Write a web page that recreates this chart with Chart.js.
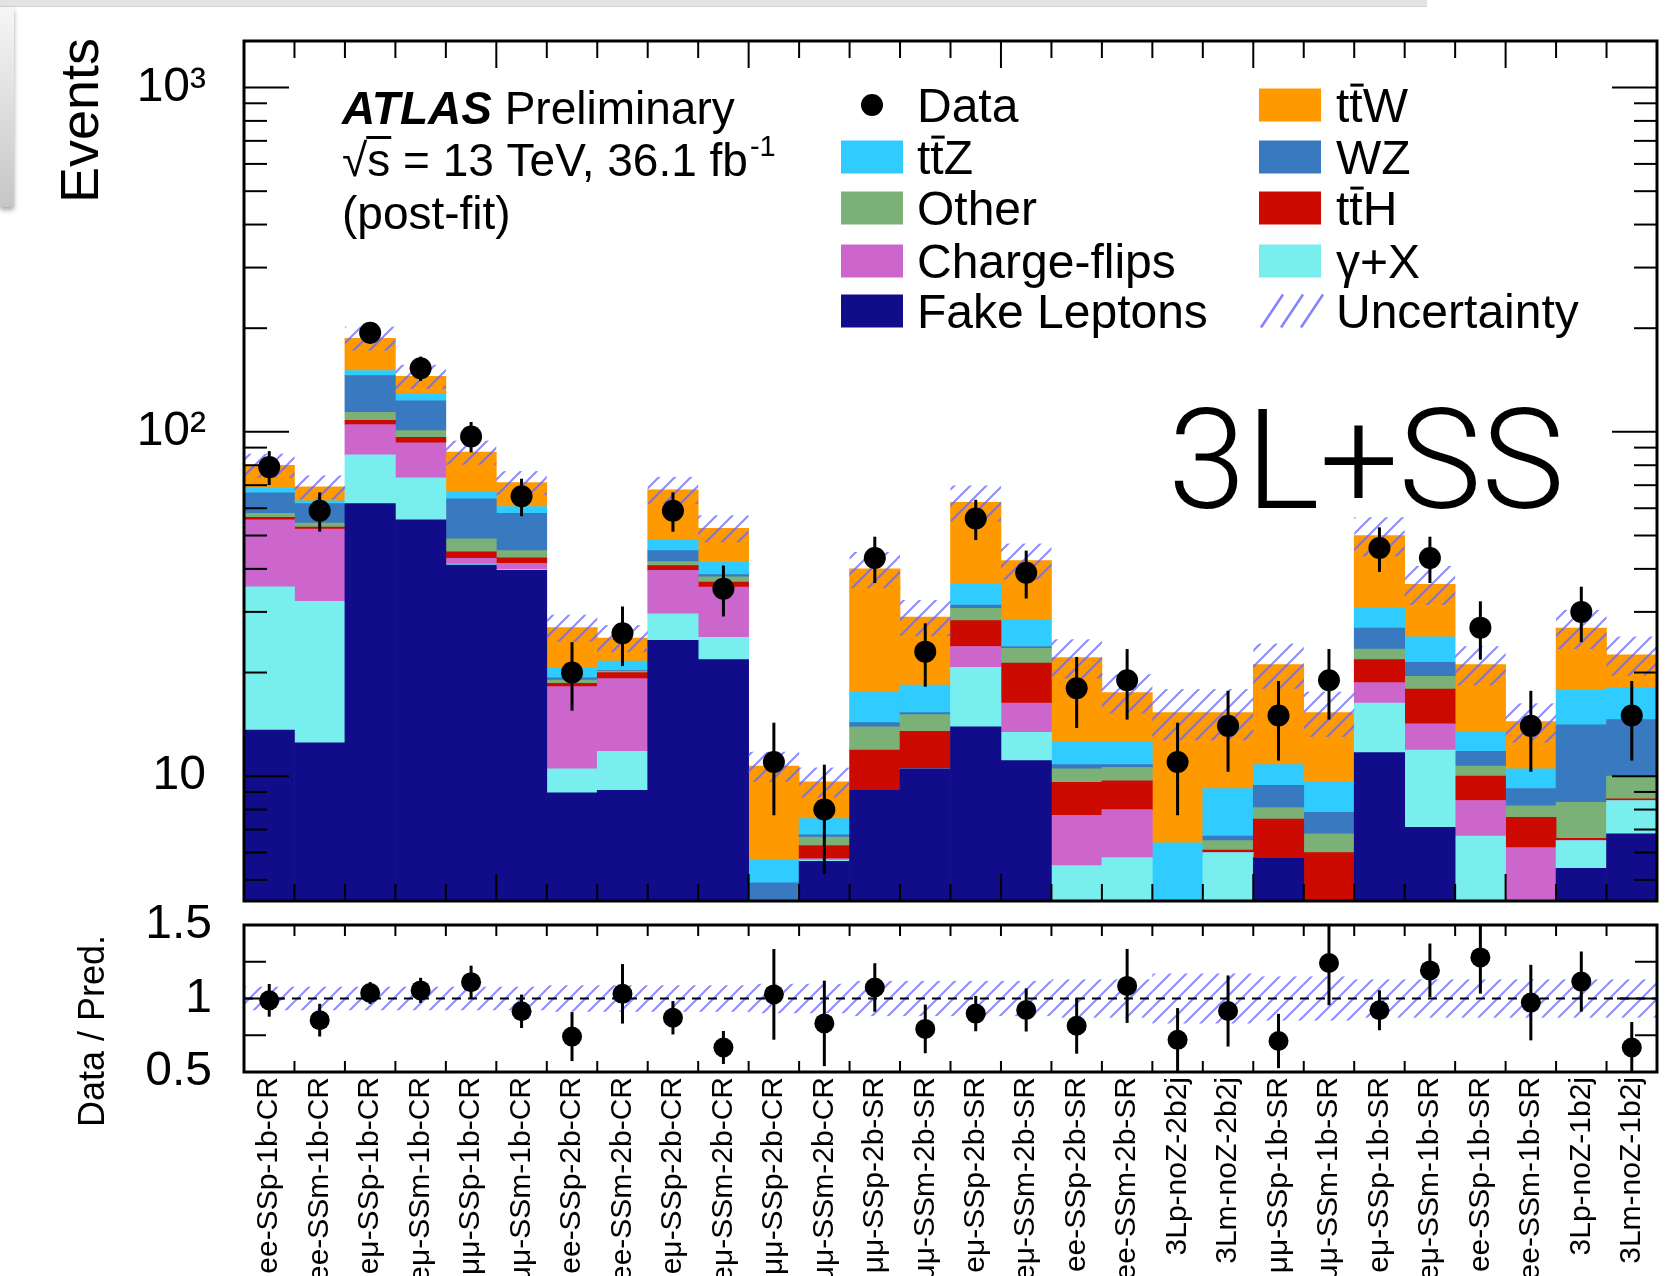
<!DOCTYPE html>
<html>
<head>
<meta charset="utf-8">
<title>3L+SS post-fit yields</title>
<script src="https://cdn.jsdelivr.net/npm/chart.js@4.4.1/dist/chart.umd.min.js"></script>
<style>
  html, body { margin: 0; padding: 0; background: #fff; }
  body { width: 1676px; height: 1276px; position: relative; overflow: hidden; }
  canvas { position: absolute; left: 0; }
  #mainChart { top: 0; }
  #ratioChart { top: 896px; }
  .chrome-top { position: absolute; left: 0; top: 0; width: 1427px; height: 6px; background: #e3e3e3; border-bottom: 1px solid #d2d2d2; }
  .chrome-left { position: absolute; left: 0; top: 7px; width: 14px; height: 200px; background: linear-gradient(#f6f6f6, #c6c6c6); box-shadow: 0 3px 5px rgba(0,0,0,0.35); }
</style>
</head>
<body>
<canvas id="mainChart" width="1676" height="912"></canvas>
<canvas id="ratioChart" width="1676" height="380"></canvas>
<div class="chrome-top"></div>
<div class="chrome-left"></div>
<script>
const FONT = "'Liberation Sans', Arial, Helvetica, sans-serif";

// Regions (x axis bins)
const regions = [
  'ee-SSp-1b-CR', 'ee-SSm-1b-CR', 'eμ-SSp-1b-CR', 'eμ-SSm-1b-CR', 'μμ-SSp-1b-CR', 'μμ-SSm-1b-CR',
  'ee-SSp-2b-CR', 'ee-SSm-2b-CR', 'eμ-SSp-2b-CR', 'eμ-SSm-2b-CR', 'μμ-SSp-2b-CR', 'μμ-SSm-2b-CR',
  'μμ-SSp-2b-SR', 'μμ-SSm-2b-SR', 'eμ-SSp-2b-SR', 'eμ-SSm-2b-SR', 'ee-SSp-2b-SR', 'ee-SSm-2b-SR',
  '3Lp-noZ-2b2j', '3Lm-noZ-2b2j',
  'μμ-SSp-1b-SR', 'μμ-SSm-1b-SR', 'eμ-SSp-1b-SR', 'eμ-SSm-1b-SR', 'ee-SSp-1b-SR', 'ee-SSm-1b-SR',
  '3Lp-noZ-1b2j', '3Lm-noZ-1b2j'
];

// Background yields, bottom of the stack first
const fakeLeptons = [13.6, 12.5, 61.9, 55.5, 41.0, 39.6, 8.95, 9.1, 24.8, 21.8, 1.5, 5.66, 9.1, 10.5, 13.9, 11.1, 2.0, 2.0, 1.5, 1.5, 5.8, 2.5, 11.7, 7.1, 2.0, 1.5, 5.4, 6.8];
const gammaX      = [21.9, 19.7, 23.8, 18.0, 0.3, 0.2, 1.55, 2.7, 4.8, 3.5, 0.6, 0.05, 0, 0, 6.8, 2.3, 3.5, 3.8, 0.5, 4.5, 0, 0.8, 4.6, 4.8, 4.7, 1.5, 1.1, 1.7];
const chargeFlips = [20.0, 20.0, 19.3, 19.5, 1.6, 1.7, 7.7, 7.4, 10.0, 10.1, 0.1, 0.05, 0, 0, 3.1, 2.9, 2.2, 2.2, 0.2, 0, 0, 0.9, 2.4, 2.3, 1.8, 3.2, 0, 0];
const ttH         = [1.0, 0.7, 3.0, 3.4, 1.9, 1.6, 0.4, 0.8, 1.3, 1.2, 0.9, 0.53, 2.8, 3.0, 4.5, 5.0, 1.9, 1.7, 0.8, 0.1, 1.7, 1.8, 3.1, 3.7, 1.5, 1.4, 0.1, 0.1];
const other       = [1.5, 1.4, 6.0, 4.4, 4.1, 2.1, 0.4, 0.2, 1.1, 1.3, 0.8, 0.36, 2.0, 1.6, 2.4, 2.2, 0.9, 0.9, 0.6, 0.4, 0.6, 0.8, 1.6, 1.6, 0.7, 0.6, 1.8, 1.4];
const wz          = [8.5, 7.6, 31.6, 22.2, 15.0, 12.8, 0.3, 0.1, 3.2, 0.6, 1.0, 0.1, 0.4, 0.2, 0.7, 0.3, 0.3, 0.2, 0.5, 0.2, 1.3, 1.05, 3.5, 1.9, 1.1, 1.0, 5.7, 4.6];
const ttZ         = [2.0, 1.2, 5.1, 6.0, 3.1, 2.7, 1.3, 1.3, 3.4, 3.3, 0.8, 0.78, 3.3, 3.1, 4.7, 4.6, 1.8, 1.8, 2.3, 2.5, 1.4, 1.75, 3.9, 4.0, 1.6, 1.3, 3.7, 3.5];
const ttW         = [11.5, 6.1, 36.3, 16.0, 20.3, 10.5, 6.4, 3.6, 19.3, 10.7, 5.0, 2.1, 22.4, 10.6, 26.3, 13.9, 9.5, 4.9, 8.9, 6.1, 10.3, 5.7, 19.2, 10.7, 7.7, 3.9, 9.1, 4.4];

// Observed data and its error bars
const dataCounts = [79, 59, 194, 153, 97, 65, 20, 26, 59, 35, 11, 8, 43, 23, 56, 39, 18, 19, 11, 14, 15, 19, 46, 43, 27, 14, 30, 15];
const dataErr    = [8.9, 7.7, 13.9, 12.4, 9.8, 8.1, 4.5, 5.1, 7.7, 5.9, 3.3, 2.8, 6.6, 4.8, 7.5, 6.2, 4.2, 4.4, 3.3, 3.7, 3.9, 4.4, 6.8, 6.6, 5.2, 3.7, 5.5, 3.9];

// Relative uncertainty of the prediction (hatched band half-width)
const relUnc = [0.08, 0.08, 0.08, 0.08, 0.08, 0.08, 0.09, 0.09, 0.09, 0.09, 0.10, 0.10,
                0.12, 0.12, 0.12, 0.12, 0.13, 0.13, 0.17, 0.17, 0.15, 0.15,
                0.13, 0.13, 0.13, 0.13, 0.13, 0.13];

// Axis ticks
const mainTicks = [10, 100, 1000];
const mainTickLabels = ['10', '10²', '10³'];
const ratioTicks = [0.5, 1, 1.5];
const ratioTickLabels = ['0.5', '1', '1.5'];

const components = [
  { name: 'Fake Leptons', values: fakeLeptons, color: '#110d8a' },
  { name: 'γ+X',          values: gammaX,      color: '#78eeee' },
  { name: 'Charge-flips', values: chargeFlips, color: '#cc66cc' },
  { name: 'ttH',          values: ttH,         color: '#cc0a00' },
  { name: 'Other',        values: other,       color: '#7bb077' },
  { name: 'WZ',           values: wz,          color: '#3979c0' },
  { name: 'ttZ',          values: ttZ,         color: '#30cbff' },
  { name: 'ttW',          values: ttW,         color: '#ff9900' }
];
const colorOf = name => components.find(c => c.name === name).color;

// log axis can't take 0 as a bar start, so the bottom layer starts far below the axis
const STACK_FLOOR = 0.01;

// stack the components as floating bars
let running = regions.map(() => 0);
const barSets = components.map(c => {
  const lo = running;
  const hi = lo.map((v, i) => v + c.values[i]);
  running = hi;
  return {
    type: 'bar', label: c.name,
    data: hi.map((h, i) => [Math.max(lo[i], STACK_FLOOR), Math.max(h, STACK_FLOOR)]),
    backgroundColor: c.color, borderWidth: 0,
    barPercentage: 1, categoryPercentage: 1, grouped: false, order: 2
  };
});
const totals = running;
const ratios = dataCounts.map((d, i) => d / totals[i]);

Chart.defaults.font.family = FONT;
Chart.defaults.color = '#000';

function hatchPattern(ctx) {
  const s = 16;
  const c = document.createElement('canvas');
  c.width = s; c.height = s;
  const g = c.getContext('2d');
  g.strokeStyle = 'rgba(100, 100, 255, 0.75)';
  g.lineWidth = 2;
  g.beginPath();
  g.moveTo(0, s); g.lineTo(s, 0);
  g.moveTo(-s / 2, s / 2); g.lineTo(s / 2, -s / 2);
  g.moveTo(s / 2, s * 1.5); g.lineTo(s * 1.5, s / 2);
  g.stroke();
  return ctx.createPattern(c, 'repeat');
}

function seg(ctx, x1, y1, x2, y2) {
  ctx.beginPath(); ctx.moveTo(x1, y1); ctx.lineTo(x2, y2); ctx.stroke();
}

// hatch band + error bars, drawn just before the data markers
function bandAndErrors(id, band, err, extra) {
  return {
    id,
    beforeDatasetDraw(chart, args) {
      if (!chart.data.datasets[args.index].isData) return;
      const { ctx, chartArea: a, scales: { x, y } } = chart;
      ctx.save();
      ctx.beginPath();
      ctx.rect(a.left, a.top, a.right - a.left, a.bottom - a.top);
      ctx.clip();
      ctx.fillStyle = hatchPattern(ctx);
      regions.forEach((_, i) => {
        const [lo, hi] = band(i);
        const xl = x.getPixelForValue(i - 0.5), xr = x.getPixelForValue(i + 0.5);
        const yt = y.getPixelForValue(hi), yb = y.getPixelForValue(lo);
        ctx.fillRect(xl, yt, xr - xl, yb - yt);
      });
      if (extra) extra(chart);
      ctx.strokeStyle = '#000';
      ctx.lineWidth = 3;
      regions.forEach((_, i) => {
        const [lo, hi] = err(i);
        const xc = x.getPixelForValue(i);
        seg(ctx, xc, y.getPixelForValue(lo), xc, y.getPixelForValue(hi));
      });
      ctx.restore();
    }
  };
}

function drawName(ctx, text, x, y, size) {
  // tt̄X names get a bar over the second t
  if (/^tt[WZH]$/.test(text)) {
    const tw = ctx.measureText('t').width;
    ctx.fillText('t', x, y);
    ctx.fillText('t', x + tw, y);
    ctx.fillRect(x + tw + 1, y - size * 0.8, tw, 3);
    ctx.fillText(text[2], x + 2 * tw, y);
  } else {
    ctx.fillText(text, x, y);
  }
}

const mainDecor = {
  id: 'mainDecor',
  afterDraw(chart) {
    const { ctx, chartArea: a, scales: { x, y } } = chart;
    ctx.save();
    ctx.strokeStyle = '#000';
    ctx.fillStyle = '#000';

    // x ticks at bin edges, top and bottom
    ctx.lineWidth = 2;
    for (let i = 1; i < regions.length; i++) {
      const px = x.getPixelForValue(i - 0.5);
      const len = i % 5 === 0 ? 27 : 17;
      seg(ctx, px, a.bottom, px, a.bottom - len);
      seg(ctx, px, a.top, px, a.top + len);
    }
    // log y ticks, both sides
    for (let dec = 1; dec <= 1000; dec *= 10) {
      for (let k = 1; k <= 9; k++) {
        const v = dec * k;
        if (v < y.min || v > y.max) continue;
        const py = y.getPixelForValue(v);
        const len = k === 1 ? 45 : 23;
        seg(ctx, a.left, py, a.left + len, py);
        seg(ctx, a.right, py, a.right - len, py);
      }
    }
    ctx.lineWidth = 3;
    ctx.strokeRect(a.left, a.top, a.right - a.left, a.bottom - a.top);

    // axis title
    ctx.save();
    ctx.translate(83, 38);
    ctx.rotate(-Math.PI / 2);
    ctx.font = `54px ${FONT}`;
    ctx.textAlign = 'right';
    ctx.textBaseline = 'middle';
    ctx.fillText('Events', 0, 0);
    ctx.restore();

    // ATLAS label
    ctx.textAlign = 'left';
    ctx.textBaseline = 'alphabetic';
    let tx = 342;
    ctx.font = `italic bold 46px ${FONT}`;
    ctx.fillText('ATLAS', tx, 124);
    tx += ctx.measureText('ATLAS').width;
    ctx.font = `46px ${FONT}`;
    ctx.fillText(' Preliminary', tx, 124);
    tx = 342;
    ctx.fillText('√', tx, 176);
    tx += ctx.measureText('√').width;
    const sw = ctx.measureText('s').width;
    ctx.fillText('s', tx, 176);
    ctx.fillRect(tx - 1, 176 - 40, sw + 2, 3);
    tx += sw;
    const rest = ' = 13 TeV, 36.1 fb';
    ctx.fillText(rest, tx, 176);
    tx += ctx.measureText(rest).width;
    ctx.font = `29px ${FONT}`;
    ctx.fillText('-1', tx + 2, 176 - 20);
    ctx.font = `46px ${FONT}`;
    ctx.fillText('(post-fit)', 342, 229);

    // region tag
    ctx.font = `300 140px Roboto, ${FONT}`;
    ctx.fillText('3L+SS', 1168, 508);

    // legend
    const rowY = [105, 157, 208, 261, 311];
    const col1 = ['Data', 'ttZ', 'Other', 'Charge-flips', 'Fake Leptons'];
    const col2 = ['ttW', 'WZ', 'ttH', 'γ+X', 'Uncertainty'];
    const boxW = 62, boxH = 33;
    ctx.font = `48px ${FONT}`;
    const drawCol = (names, bx, txX) => {
      names.forEach((n, r) => {
        const cy = rowY[r];
        if (n === 'Data') {
          ctx.beginPath();
          ctx.arc(bx + boxW / 2, cy, 11, 0, Math.PI * 2);
          ctx.fill();
        } else if (n === 'Uncertainty') {
          ctx.save();
          ctx.strokeStyle = 'rgba(100, 100, 255, 0.8)';
          ctx.lineWidth = 2.5;
          for (let j = 0; j < 3; j++) {
            const x0 = bx + 2 + j * 20;
            seg(ctx, x0, cy + boxH / 2, x0 + 22, cy - boxH / 2);
          }
          ctx.restore();
        } else {
          ctx.fillStyle = colorOf(n);
          ctx.fillRect(bx, cy - boxH / 2, boxW, boxH);
          ctx.fillStyle = '#000';
        }
        drawName(ctx, n, txX, cy + 17, 48);
      });
    };
    drawCol(col1, 841, 917);
    drawCol(col2, 1259, 1336);
    ctx.restore();
  }
};

const ratioDecor = {
  id: 'ratioDecor',
  afterDraw(chart) {
    const { ctx, chartArea: a, scales: { x, y } } = chart;
    ctx.save();
    ctx.strokeStyle = '#000';
    ctx.lineWidth = 2;
    for (let i = 1; i < regions.length; i++) {
      const px = x.getPixelForValue(i - 0.5);
      seg(ctx, px, a.bottom, px, a.bottom - 11);
      seg(ctx, px, a.top, px, a.top + 11);
    }
    [0.75, 1, 1.25].forEach(v => {
      const py = y.getPixelForValue(v);
      const len = v === 1 ? 40 : 22;
      seg(ctx, a.left, py, a.left + len, py);
      seg(ctx, a.right, py, a.right - len, py);
    });
    ctx.lineWidth = 3;
    ctx.strokeRect(a.left, a.top, a.right - a.left, a.bottom - a.top);

    ctx.save();
    ctx.translate(94, 935 - 896);
    ctx.rotate(-Math.PI / 2);
    ctx.font = `36px ${FONT}`;
    ctx.fillStyle = '#000';
    ctx.textAlign = 'right';
    ctx.textBaseline = 'middle';
    ctx.fillText('Data / Pred.', 0, 0);
    ctx.restore();
    ctx.restore();
  }
};

const dashedUnity = chart => {
  const { ctx, chartArea: a, scales: { y } } = chart;
  const py = y.getPixelForValue(1);
  ctx.save();
  ctx.strokeStyle = '#000';
  ctx.lineWidth = 2;
  ctx.setLineDash([9, 7]);
  seg(ctx, a.left, py, a.right, py);
  ctx.restore();
};

// Main panel
new Chart(document.getElementById('mainChart'), {
  type: 'bar',
  data: {
    labels: regions,
    datasets: [
      ...barSets,
      {
        type: 'line', label: 'Data', isData: true, data: dataCounts,
        showLine: false, pointRadius: 11, pointHoverRadius: 11,
        pointBackgroundColor: '#000', pointBorderWidth: 0, order: 0
      }
    ]
  },
  options: {
    responsive: false,
    animation: false,
    layout: { padding: { left: 124, right: 19, top: 41, bottom: 6 } },
    plugins: { legend: { display: false }, tooltip: { enabled: false } },
    scales: {
      x: { type: 'category', display: false, offset: true },
      y: {
        type: 'logarithmic', min: 4.34, max: 1365,
        border: { display: false },
        grid: { display: false, drawTicks: false },
        afterBuildTicks: s => { s.ticks = mainTicks.map(v => ({ value: v })); },
        afterFit: s => { s.width = 120; s.paddingTop = 0; s.paddingBottom = 0; },
        ticks: {
          padding: 38, color: '#000', font: { size: 48 },
          callback: v => mainTickLabels[mainTicks.indexOf(v)]
        }
      }
    }
  },
  plugins: [
    bandAndErrors('mainBand',
      i => [totals[i] * (1 - relUnc[i]), totals[i] * (1 + relUnc[i])],
      i => [Math.max(dataCounts[i] - dataErr[i], 0.01), dataCounts[i] + dataErr[i]]),
    mainDecor
  ]
});

// Ratio panel
new Chart(document.getElementById('ratioChart'), {
  type: 'line',
  data: {
    labels: regions,
    datasets: [{
      label: 'Data / Pred.', isData: true, data: ratios,
      showLine: false, pointRadius: 10, pointHoverRadius: 10,
      pointBackgroundColor: '#000', pointBorderWidth: 0
    }]
  },
  options: {
    responsive: false,
    animation: false,
    layout: { padding: { left: 124, right: 19, top: 29, bottom: 0 } },
    plugins: { legend: { display: false }, tooltip: { enabled: false } },
    scales: {
      x: {
        type: 'category', offset: true,
        border: { display: false },
        grid: { display: false, drawTicks: false },
        afterFit: s => { s.height = 204; s.paddingLeft = 0; s.paddingRight = 0; },
        ticks: {
          autoSkip: false, minRotation: 90, maxRotation: 90,
          padding: 5, color: '#000', font: { size: 30 }
        }
      },
      y: {
        type: 'linear', min: 0.5, max: 1.5,
        border: { display: false },
        grid: { display: false, drawTicks: false },
        afterBuildTicks: s => { s.ticks = ratioTicks.map(v => ({ value: v })); },
        afterFit: s => { s.width = 120; s.paddingTop = 0; s.paddingBottom = 0; },
        ticks: {
          padding: 32, color: '#000', font: { size: 48 },
          callback: v => ratioTickLabels[ratioTicks.indexOf(v)]
        }
      }
    }
  },
  plugins: [
    bandAndErrors('ratioBand',
      i => [1 - relUnc[i], 1 + relUnc[i]],
      i => [ratios[i] - dataErr[i] / totals[i], ratios[i] + dataErr[i] / totals[i]],
      dashedUnity),
    ratioDecor
  ]
});
</script>
</body>
</html>
